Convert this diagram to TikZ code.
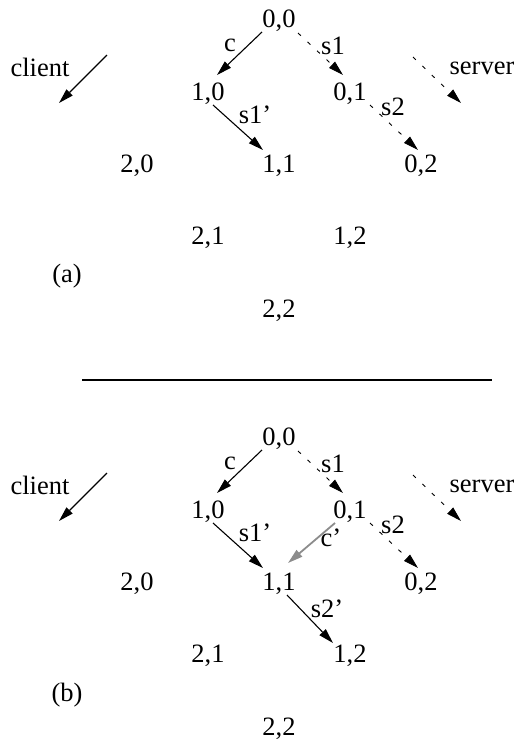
\documentclass[tikz,border=0pt]{standalone}
\usepackage{fontspec}
\setmainfont{Liberation Serif}
\usetikzlibrary{arrows.meta}
\newcommand\mylattice{%
  \node[st] (n00) at (279,18)  {0,0};
  \node[st] (n10) at (208,91)  {1,0};
  \node[st] (n01) at (350,91)  {0,1};
  \node[st] (n20) at (137,163) {2,0};
  \node[st] (n11) at (279,163) {1,1};
  \node[st] (n02) at (421,163) {0,2};
  \node[st] (n21) at (208,235) {2,1};
  \node[st] (n12) at (350,235) {1,2};
  \node[st] (n22) at (279,308) {2,2};
  \node[st] (client) at (40,67) {client};
  \node[st] (server) at (482,65) {server};
  \coordinate (cla) at (107,55);
  \coordinate (clb) at (59,103);
  \coordinate (sva) at (413,57);
  \coordinate (svb) at (461,103);
  \draw[arr] (cla) -- (clb);
  \draw[dsh] (sva) -- (svb);
  \draw[arr] ([shift={(-17,14)}]n00.center) -- ([shift={(9,-16)}]n10.center);
  \draw[dsh] ([shift={(19,15)}]n00.center) -- ([shift={(-7,-16)}]n01.center);
  \draw[arr] ([shift={(5,14)}]n10.center) -- ([shift={(-16,-13)}]n11.center);
  \draw[dsh] ([shift={(20,14)}]n01.center) -- ([shift={(-3,-13)}]n02.center);
  \node[st] (lc)  at (230,42)  {c};
  \node[st] (ls1) at (333,45)  {s1};
  \node[st] (ls1p) at (255,114) {s1'};
  \node[st] (ls2) at (393,106) {s2};
}
\begin{document}
\begin{tikzpicture}[x=1pt,y=-1pt,
  st/.style={inner sep=0pt, font=\fontsize{26.5}{30}\selectfont, text height=18pt, text depth=0pt},
  arr/.style={-{Triangle[length=15pt,width=8.5pt]}, line width=1.1pt},
  dsh/.style={arr, line width=0.9pt, dash pattern=on 4pt off 9pt},
  gry/.style={-{Triangle[length=15pt,width=8.5pt]}, line width=1.8pt, draw=black!45, fill=black!45}]
\useasboundingbox (0,0) rectangle (514,740);
\begin{scope}[name prefix=a-]
  \mylattice
  \node[st] (lab) at (67,273) {(a)};
\end{scope}
\coordinate (sepl) at (82,380);
\coordinate (sepr) at (492,380);
\draw[line width=1.4pt] (sepl) -- (sepr);
\begin{scope}[name prefix=b-, shift={(0,418)}]
  \mylattice
  \node[st] (lab) at (67,274) {(b)};
  \draw[gry] ([shift={(-15,14)}]n01.center) -- ([shift={(9,-18)}]n11.center);
  \draw[arr] ([shift={(8,14)}]n11.center) -- ([shift={(-17,-10)}]n12.center);
  \node[st] (lcp) at (331,119) {c'};
  \node[st] (ls2p) at (327,190) {s2'};
\end{scope}
\end{tikzpicture}
\end{document}
